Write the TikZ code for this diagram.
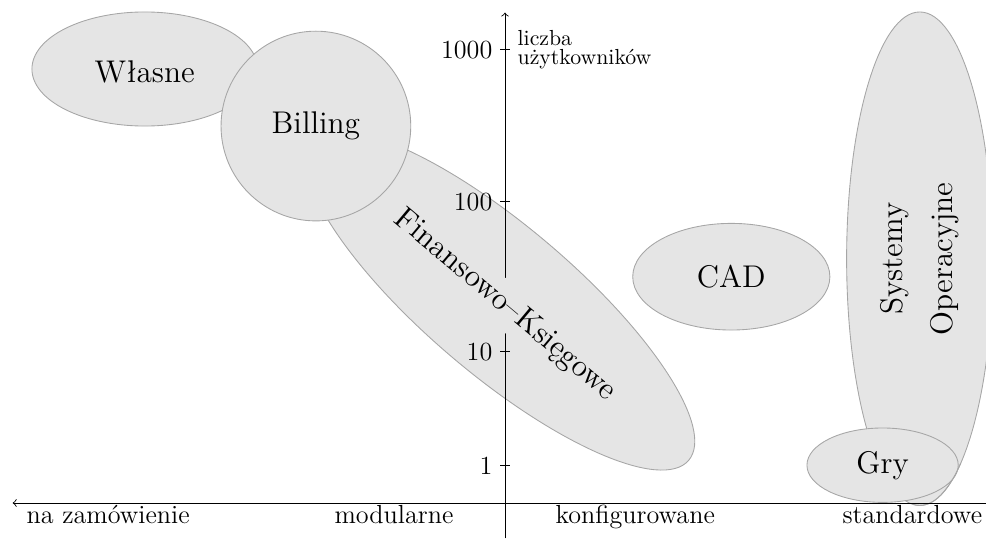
\documentclass[tikz,border=0pt]{standalone}
\usepackage{fontspec}

\begin{document}
\begin{tikzpicture}[obszar/.style={fill=gray!20, draw=gray!70}, napis/.style={fill=gray!20, font=\Large}, opis/.style={font=\large}]
        \useasboundingbox (-8.145,-0.565) rectangle (7.758,8.113);
        
        \draw[obszar] (-5.81,7.0) ellipse [x radius=1.82, y radius=0.92];
        \draw[obszar, rotate around={-40.3:(-0.08,3.27)}] (-0.08,3.27) ellipse [x radius=3.99, y radius=1.2];
        \draw[obszar] (-3.05,6.08) circle [radius=1.53];
        \draw[obszar] (3.65,3.65) ellipse [x radius=1.59, y radius=0.86];
        \draw[obszar] (6.69,3.94) ellipse [x radius=1.18, y radius=3.98];
        \draw[obszar] (6.09,0.61) ellipse [x radius=1.22, y radius=0.6];
        \draw[gray!70] (6.69,3.94) ++(-56:1.18 and 3.98) arc [start angle=-56, end angle=-95, x radius=1.18, y radius=3.98];
        
        \coordinate (prawo) at (7.76,0);
        \coordinate (lewo) at (-7.94,0);
        \coordinate (dol) at (0,-0.57);
        \coordinate (gora) at (0,7.91);
        \draw[->] (prawo) -- (lewo);
        \draw[->] (dol) -- (gora);
        \foreach \y/\n in {0.6/1, 2.44/10, 4.86/100, 7.31/1000}
            \draw (-0.08,\y) node[left, opis] (t\n) {\n} -- (0.08,\y);
        \node[right, align=left] (liczba) at (0.08,7.31) {liczba\\[-3pt]użytkowników};
        
        \node[opis, anchor=base] (zamowienie) at (-6.4,-0.33) {na zamówienie};
        \node[opis, anchor=base] (modularne) at (-1.79,-0.33) {modularne};
        \node[opis, anchor=base] (konfig) at (2.1,-0.33) {konfigurowane};
        \node[opis, anchor=base] (standard) at (6.57,-0.33) {standardowe};
        
        \node[napis] (wlasne) at (-5.81,6.95) {Własne};
        \node[napis] (billing) at (-3.05,6.08) {Billing};
        \node[napis, rotate=-40] (finanse) at (0,3.19) {Finansowo--Księgowe};
        \node[napis] (cad) at (3.65,3.65) {CAD};
        \node[napis, rotate=90, align=center] (systemy) at (6.69,3.94) {Systemy\\[5pt]Operacyjne};
        \node[napis] (gry) at (6.09,0.61) {Gry};
        
    \end{tikzpicture}
\end{document}
